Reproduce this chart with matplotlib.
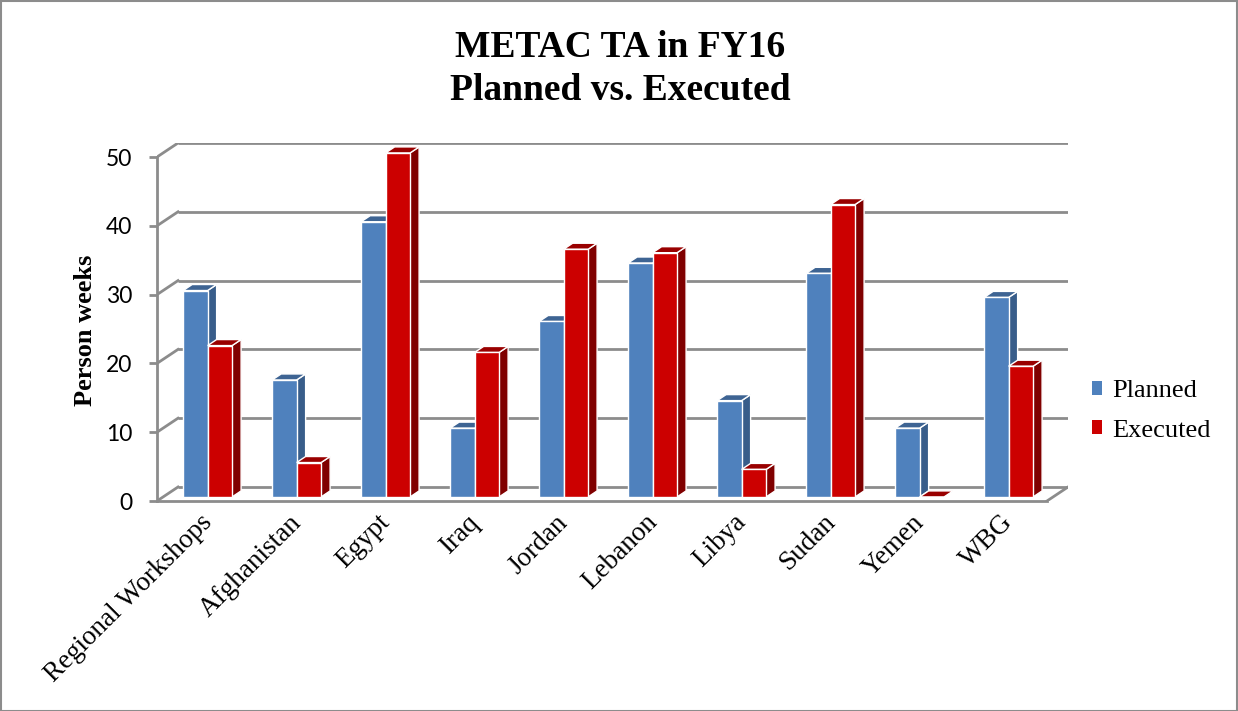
import matplotlib
matplotlib.use("Agg")
import matplotlib.pyplot as plt
from matplotlib.patches import Polygon, Rectangle, Patch
from matplotlib.transforms import ScaledTranslation
import numpy as np

categories = ["Regional Workshops", "Afghanistan", "Egypt", "Iraq", "Jordan",
              "Lebanon", "Libya", "Sudan", "Yemen", "WBG"]
planned = [30, 17, 40, 10, 25.5, 34, 14, 32.5, 10, 29]
executed = [22, 5, 50, 21, 36, 35.5, 4, 42.5, 0, 19]
series_names = ["Planned", "Executed"]
yticks = [0, 10, 20, 30, 40, 50]

front_col = ["#4F81BD", "#CC0000"]
side_col = ["#385D8A", "#800000"]
top_col = ["#3E6493", "#990000"]

serif = "Liberation Serif"
sans = "Lato"

fig = plt.figure(figsize=(12.38, 7.11), dpi=100)
W, H = 1238, 711
ax = fig.add_axes([157 / W, (H - 501) / H, 911 / W, 358 / H])

n = len(categories)
DX = 21 / 89.0          # depth offset in x (category units)
DY = 14 / 6.88          # depth offset in y (value units)
xmin, xmax = -0.5, n - 0.5
ax.set_xlim(xmin, xmax + DX)
ax.set_ylim(0, 50 + DY)

grid_c = "#8C8C8C"
for v in yticks:
    ax.plot([xmin + DX, xmax + DX], [v + DY, v + DY], color=grid_c, lw=2, zorder=1,
            solid_capstyle="butt")
    ax.plot([xmin, xmin + DX], [v, v + DY], color=grid_c, lw=2, zorder=1)
ax.plot([xmax, xmax + DX], [0, DY], color=grid_c, lw=2, zorder=1)

for s in ["top", "right"]:
    ax.spines[s].set_visible(False)
ax.spines["left"].set_bounds(0, 50)
ax.spines["bottom"].set_bounds(xmin, xmax)
for s in ["left", "bottom"]:
    ax.spines[s].set_color(grid_c)
    ax.spines[s].set_linewidth(2)

# bars
fd, dd = 0.29, 0.43
w = 0.275
base = fd * DY
x_idx = np.arange(n)
for si, vals in enumerate([planned, executed]):
    centers = x_idx + fd * DX
    lefts = centers - w + si * w
    ax.bar(lefts, vals, width=w, bottom=base, align="edge", color=front_col[si],
           edgecolor="white", linewidth=1, zorder=3 + si * 0.5 - 0.001)
for i in range(n):
    for si, vals in enumerate([planned, executed]):
        v = vals[i]
        x0 = i + fd * DX - w + si * w
        x1 = x0 + w
        ox, oy = dd * DX, dd * DY
        side = Polygon([(x1, base), (x1 + ox, base + oy), (x1 + ox, base + v + oy), (x1, base + v)],
                       closed=True, facecolor=side_col[si], edgecolor="white", lw=1,
                       zorder=3 + si * 0.5 - 0.002)
        top = Polygon([(x0, base + v), (x1, base + v), (x1 + ox, base + v + oy), (x0 + ox, base + v + oy)],
                      closed=True, facecolor=top_col[si], edgecolor="white", lw=1,
                      zorder=3 + si * 0.5 - 0.002)
        ax.add_patch(side)
        ax.add_patch(top)

# y axis ticks
ax.set_yticks(yticks)
ax.set_yticklabels([str(t) for t in yticks], fontfamily=sans, fontsize=16.5)
ax.tick_params(axis="y", direction="out", length=6, width=2, color=grid_c, pad=12)
ax.set_ylabel("Person weeks", fontfamily=serif, fontsize=19, fontweight="bold")
ax.yaxis.set_label_coords(-0.066, 0.478)

# x axis labels
ax.set_xticks(x_idx)
ax.set_xticklabels(categories, fontfamily=serif, fontsize=19.5, rotation=45,
                   ha="right", va="top", rotation_mode="anchor")
ax.tick_params(axis="x", length=0, pad=0)
off = ScaledTranslation(-2 / 100, -9 / 100, fig.dpi_scale_trans)
for lab in ax.get_xticklabels():
    lab.set_transform(lab.get_transform() + off)

# title
fig.text(620 / W, 1 - 69 / H, "METAC TA in FY16\nPlanned vs. Executed", ha="center", va="center",
         fontfamily=serif, fontsize=27, fontweight="bold", linespacing=1.3)

# legend
handles = [Patch(facecolor=front_col[k], edgecolor="none", label=series_names[k]) for k in range(2)]
fig.legend(handles=handles, loc="center left", bbox_to_anchor=(1081 / W, 1 - 411 / H),
           frameon=False, prop={"family": serif, "size": 19}, handlelength=0.4, handleheight=0.4,
           handletextpad=0.4, labelspacing=0.65, borderaxespad=0.0)

# outer border
fig.patches.append(Rectangle((0.5 / W, 0.5 / H), 1 - 1.5 / W, 1 - 1.5 / H, transform=fig.transFigure,
                             fill=False, edgecolor="#8C8C8C", lw=1.5))

fig.savefig("out.png", dpi=100)
